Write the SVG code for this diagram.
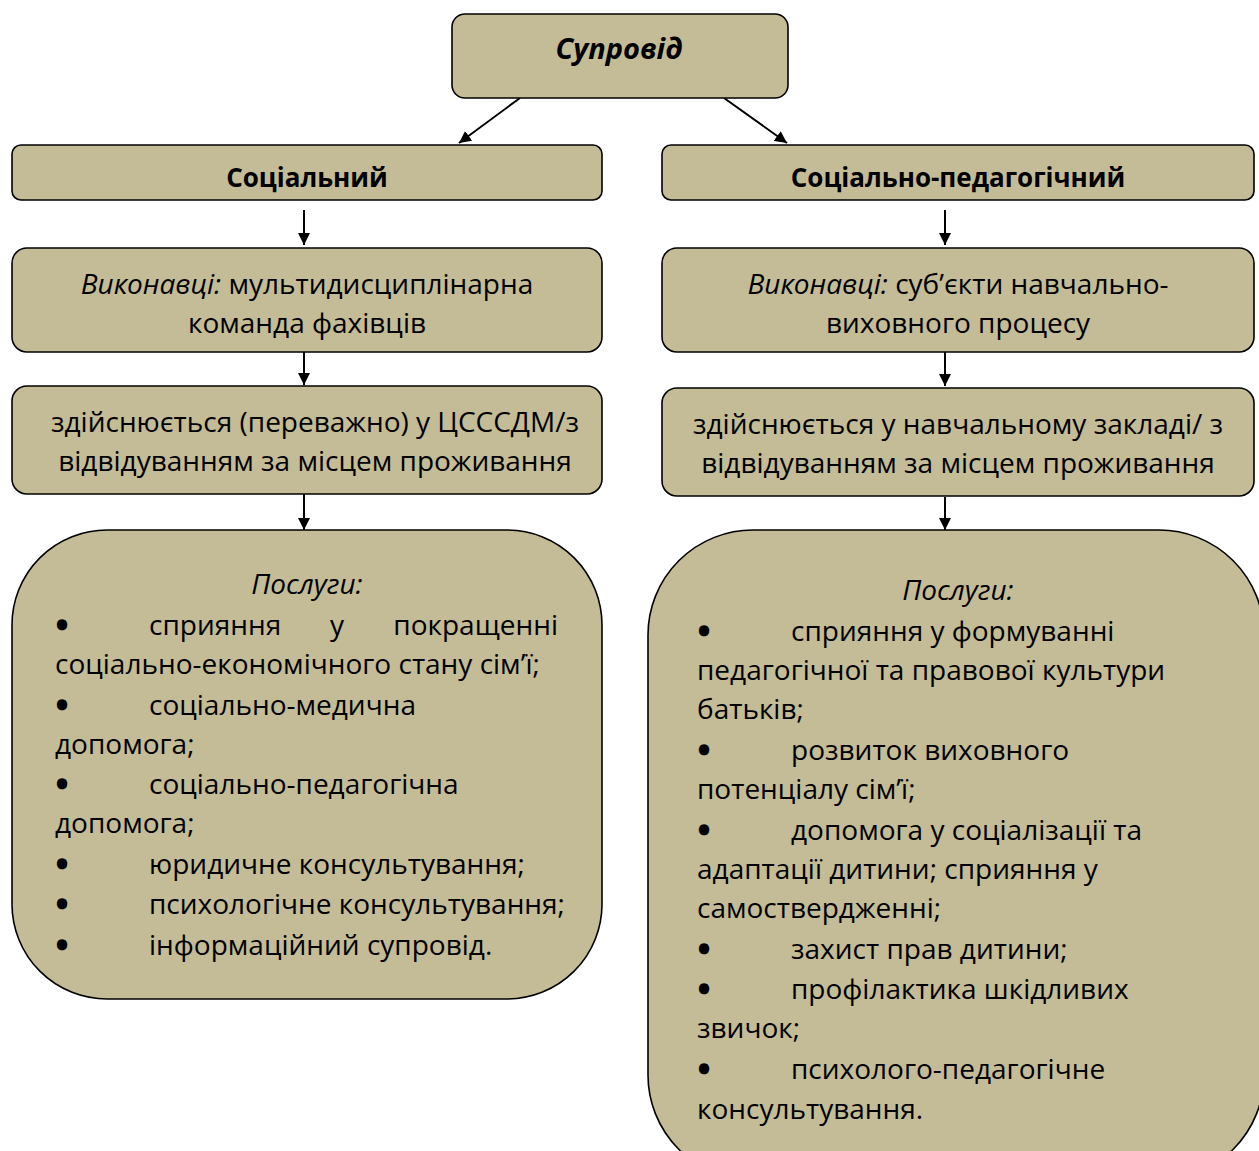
<svg xmlns="http://www.w3.org/2000/svg" width="1259" height="1151" viewBox="0 0 1259 1151">
<style>
.box{fill:#C4BC96;stroke:#000;stroke-width:1.6}
text{font-family:"Open Sans","Noto Sans","DejaVu Sans",sans-serif;font-size:28px;fill:#000}
.c{text-anchor:middle}
.b{font-weight:bold;font-size:26px}
.i{font-style:italic}
.bul{text-anchor:middle;stroke:#000;stroke-width:4.5;stroke-linejoin:round}
.con{stroke:#000;stroke-width:2;fill:none;marker-end:url(#ah)}
</style>
<defs>
<marker id="ah" viewBox="0 0 10 10" refX="10" refY="5" markerWidth="6" markerHeight="6" orient="auto" markerUnits="strokeWidth">
<path d="M0,0 L10,5 L0,10 z" fill="#000"/>
</marker>
</defs>
<rect width="1259" height="1151" fill="#fff"/>
<g id="connectors">
<line class="con" x1="520" y1="98" x2="459" y2="143"/>
<line class="con" x1="724" y1="98" x2="787" y2="143"/>
<line class="con" x1="304" y1="210" x2="304" y2="245"/>
<line class="con" x1="945" y1="210" x2="945" y2="245"/>
<line class="con" x1="304" y1="352" x2="304" y2="385"/>
<line class="con" x1="945" y1="352" x2="945" y2="386"/>
<line class="con" x1="304" y1="494" x2="304" y2="530"/>
<line class="con" x1="945" y1="497" x2="945" y2="530"/>
</g>
<g id="root">
<rect class="box" x="452" y="14" width="336" height="84" rx="13"/>
<text class="c b i" x="619" y="59" style="font-size:29px">Супровід</text>
</g>
<g id="social">
<rect class="box" x="12" y="145" width="590" height="55" rx="9"/>
<text class="c b" x="307" y="187">Соціальний</text>
</g>
<g id="socped">
<rect class="box" x="662" y="145" width="592" height="55" rx="9"/>
<text class="c b" x="958" y="187">Соціально-педагогічний</text>
</g>
<g id="exec-left">
<rect class="box" x="12" y="248" width="590" height="104" rx="15"/>
<text class="c" x="307" y="294"><tspan class="i">Виконавці:</tspan> мультидисциплінарна</text>
<text class="c" x="307" y="333">команда фахівців</text>
</g>
<g id="exec-right">
<rect class="box" x="662" y="248" width="592" height="104" rx="15"/>
<text class="c" x="958" y="294"><tspan class="i">Виконавці:</tspan> суб’єкти навчально-</text>
<text class="c" x="958" y="333">виховного процесу</text>
</g>
<g id="place-left">
<rect class="box" x="12" y="386" width="590" height="108" rx="15"/>
<text class="c" x="315" y="432">здійснюється (переважно) у ЦСССДМ/з</text>
<text class="c" x="315" y="471">відвідуванням за місцем проживання</text>
</g>
<g id="place-right">
<rect class="box" x="662" y="388" width="592" height="108" rx="15"/>
<text class="c" x="958" y="434">здійснюється у навчальному закладі/ з</text>
<text class="c" x="958" y="473">відвідуванням за місцем проживання</text>
</g>
<g id="services-left">
<rect class="box" x="12" y="530" width="590" height="469" rx="95"/>
<text class="c i" x="307" y="594">Послуги:</text>
<text class="bul" x="62" y="635">•</text><text x="149" y="635">сприяння</text><text x="337" y="635" text-anchor="middle">у</text><text x="558" y="635" text-anchor="end">покращенні</text>
<text x="55" y="674">соціально-економічного стану сім’ї;</text>
<text class="bul" x="62" y="715">•</text><text x="149" y="715">соціально-медична</text>
<text x="55" y="754">допомога;</text>
<text class="bul" x="62" y="794">•</text><text x="149" y="794">соціально-педагогічна</text>
<text x="55" y="833">допомога;</text>
<text class="bul" x="62" y="874">•</text><text x="149" y="874">юридичне консультування;</text>
<text class="bul" x="62" y="914">•</text><text x="149" y="914">психологічне консультування;</text>
<text class="bul" x="62" y="955">•</text><text x="149" y="955">інформаційний супровід.</text>
</g>
<g id="services-right">
<rect class="box" x="648" y="530" width="616" height="650" rx="105"/>
<text class="c i" x="958" y="600">Послуги:</text>
<text class="bul" x="704" y="641">•</text><text x="791" y="641">сприяння у формуванні</text>
<text x="697" y="680">педагогічної та правової культури</text>
<text x="697" y="719">батьків;</text>
<text class="bul" x="704" y="760">•</text><text x="791" y="760">розвиток виховного</text>
<text x="697" y="799">потенціалу сім’ї;</text>
<text class="bul" x="704" y="840">•</text><text x="791" y="840">допомога у соціалізації та</text>
<text x="697" y="879">адаптації дитини; сприяння у</text>
<text x="697" y="918">самоствердженні;</text>
<text class="bul" x="704" y="959">•</text><text x="791" y="959">захист прав дитини;</text>
<text class="bul" x="704" y="999">•</text><text x="791" y="999">профілактика шкідливих</text>
<text x="697" y="1038">звичок;</text>
<text class="bul" x="704" y="1079">•</text><text x="791" y="1079">психолого-педагогічне</text>
<text x="697" y="1119">консультування.</text>
</g>
</svg>
